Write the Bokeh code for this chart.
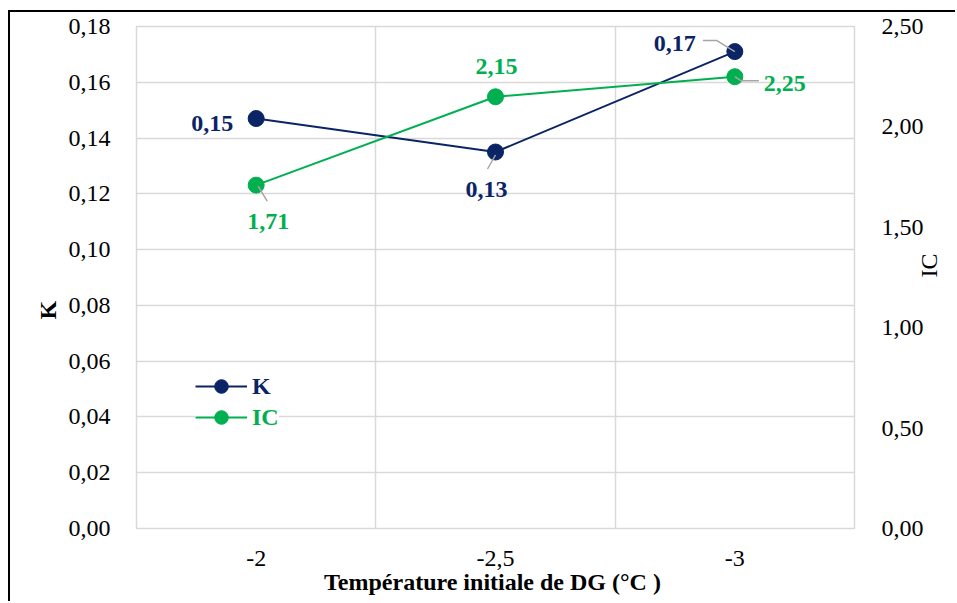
import math
from bokeh.plotting import figure
from bokeh.models import (Range1d, LinearAxis, FixedTicker, CustomJSTickFormatter,
                          Legend, LegendItem, ColumnDataSource, Title)
from bokeh.core.properties import value
from bokeh.embed import file_html
from bokeh.resources import INLINE

# ---- data ----
categories = ["-2", "-2,5", "-3"]
k_values = [0.147, 0.135, 0.171]
ic_values = [1.71, 2.15, 2.25]
k_labels = ["0,15", "0,13", "0,17"]
ic_labels = ["1,71", "2,15", "2,25"]
k_ticks = [0.0, 0.02, 0.04, 0.06, 0.08, 0.10, 0.12, 0.14, 0.16, 0.18]
ic_ticks = [0.0, 0.5, 1.0, 1.5, 2.0, 2.5]

NAVY = "#0B2465"
GREEN = "#00B050"
GRID = "#D9D9D9"
LEADER = "#A6A6A6"
FONT = "'Liberation Serif', 'Times New Roman', serif"

W, H = 947, 591
BL, BR, BT, BB = 126, 103, 14, 75
FW, FH = W - BL - BR, H - BT - BB

xs = [i + 0.5 for i in range(len(categories))]

p = figure(width=W, height=H, output_backend="svg", toolbar_location=None,
           x_range=Range1d(0, len(categories)), y_range=Range1d(0, 0.18),
           min_border_left=BL, min_border_right=BR, min_border_top=BT,
           min_border_bottom=BB, background_fill_color="white",
           border_fill_color="white", outline_line_color=GRID,
           outline_line_width=1.5)
p.styles = {"border-top": "2px solid black", "border-left": "2px solid black",
            "margin-left": "8px", "margin-top": "10px"}
p.extra_y_ranges = {"ic": Range1d(0, 2.5)}

# axes
fmt = CustomJSTickFormatter(code="return tick.toFixed(2).replace('.', ',');")
p.yaxis.ticker = FixedTicker(ticks=k_ticks)
p.yaxis.formatter = fmt

right = LinearAxis(y_range_name="ic", ticker=FixedTicker(ticks=ic_ticks),
                   formatter=fmt)
p.add_layout(right, "right")

p.xaxis.ticker = FixedTicker(ticks=xs)
p.xaxis.major_label_overrides = {x: c for x, c in zip(xs, categories)}
p.xaxis.axis_label = "Température initiale de DG  (°C )"

for ax in p.axis:
    ax.axis_line_color = None
    ax.major_tick_line_color = None
    ax.minor_tick_line_color = None
    ax.major_label_text_font = FONT
    ax.major_label_text_font_size = "24px"
    ax.major_label_text_color = "black"
    ax.axis_label_text_font = FONT
    ax.axis_label_text_font_size = "24px"
    ax.axis_label_text_color = "black"
    ax.axis_label_text_font_style = "bold"
p.yaxis[0].major_label_standoff = 20
right.major_label_standoff = 21
p.xaxis.major_label_standoff = 16
p.xaxis.axis_label_standoff = 0

# left axis title, placed a little below the middle
p.add_layout(Title(text="K", align="left", offset=209, standoff=10,
                   text_font=FONT, text_font_size="24px", text_font_style="bold",
                   text_color="black"), "left")

# right axis title, reading bottom-to-top
if "axis_label_orientation" in LinearAxis.properties():
    right.axis_label = "IC"
    right.axis_label_orientation = math.pi / 2
    right.axis_label_standoff = 2
    right.axis_label_text_font_style = "normal"
    right.axis_label_text_align = "right"
else:
    p.add_layout(Title(text="IC", align="center", standoff=4,
                       text_font=FONT, text_font_size="24px",
                       text_font_style="normal", text_color="black"), "right")

# grids
p.ygrid.ticker = FixedTicker(ticks=k_ticks)
p.ygrid.grid_line_color = GRID
p.ygrid.grid_line_width = 1.5
p.xgrid.ticker = FixedTicker(ticks=list(range(1, len(categories))))
p.xgrid.grid_line_color = GRID
p.xgrid.grid_line_width = 1.5

# series
k_line = p.line(xs, k_values, line_color=NAVY, line_width=2)
k_pts = p.scatter(xs, k_values, size=16, fill_color=NAVY, line_color=NAVY)
ic_line = p.line(xs, ic_values, line_color=GREEN, line_width=2, y_range_name="ic")
ic_pts = p.scatter(xs, ic_values, size=16, fill_color=GREEN, line_color=GREEN,
                   y_range_name="ic")

# leader lines (pixel offsets from the point, converted through the frame scale)
px_x = len(categories) / FW
px_k = 0.18 / FH
px_ic = 2.5 / FH
k_leaders = {1: [(0, 3), (-8, 17)], 2: [(-32, -11), (-18, -11), (0, 0)]}
ic_leaders = {0: [(2, 1), (11, 16)], 2: [(0, 0), (6, 4), (24, 4)]}
for i, pts in k_leaders.items():
    p.line([xs[i] + dx * px_x for dx, dy in pts],
           [k_values[i] - dy * px_k for dx, dy in pts],
           line_color=LEADER, line_width=1.5)
for i, pts in ic_leaders.items():
    p.line([xs[i] + dx * px_x for dx, dy in pts],
           [ic_values[i] - dy * px_ic for dx, dy in pts],
           line_color=LEADER, line_width=1.5, y_range_name="ic")

# data labels
k_src = ColumnDataSource(dict(x=xs, y=k_values, t=k_labels,
                              xo=[-23, -9, -60], yo=[5, 37, -8],
                              al=["right", "center", "center"]))
p.text("x", "y", text="t", source=k_src, x_offset="xo", y_offset="yo",
       text_align="al", text_baseline="middle", text_color=NAVY,
       text_font=value(FONT), text_font_size="24px", text_font_style="bold")
ic_src = ColumnDataSource(dict(x=xs, y=ic_values, t=ic_labels,
                               xo=[12, 1, 29], yo=[36, -30, 7],
                               al=["center", "center", "left"]))
p.text("x", "y", text="t", source=ic_src, x_offset="xo", y_offset="yo",
       text_align="al", text_baseline="middle", text_color=GREEN,
       text_font=value(FONT), text_font_size="24px", text_font_style="bold",
       y_range_name="ic")

# legends (one per series so the label colours differ)
for lab, rends, col, ybot in [("K", [k_line, k_pts], NAVY, 125),
                              ("IC", [ic_line, ic_pts], GREEN, 94)]:
    lg = Legend(items=[LegendItem(label=lab, renderers=rends)],
                location=(59, ybot), glyph_width=52, glyph_height=34,
                label_standoff=5, padding=5, margin=0, spacing=0,
                label_text_font=FONT, label_text_font_size="24px",
                label_text_font_style="bold", label_text_color=col,
                border_line_color=None, background_fill_color="white",
                background_fill_alpha=1.0)
    p.add_layout(lg, "center")

open("out.html", "w").write(file_html(p, INLINE))
